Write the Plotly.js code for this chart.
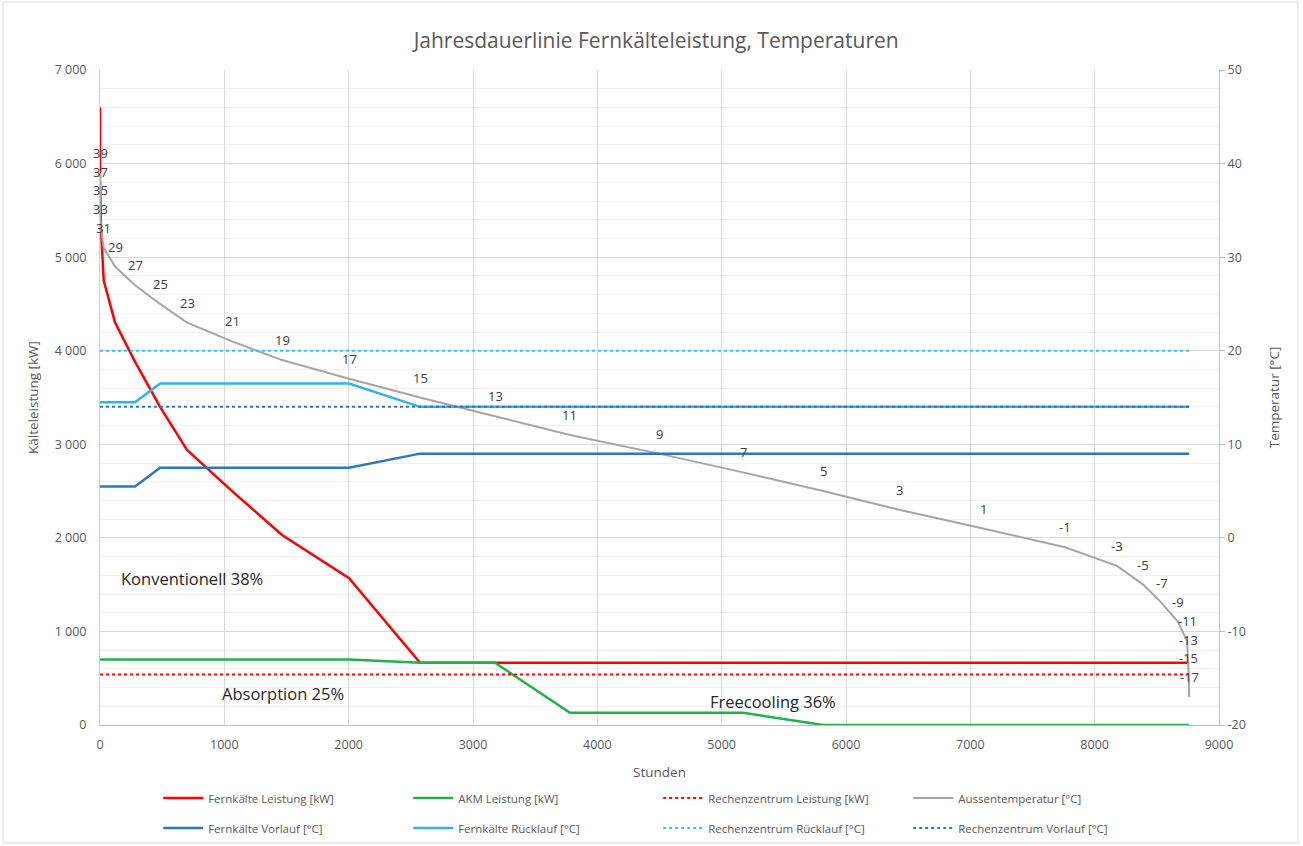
<!DOCTYPE html>
<html>
<head>
<meta charset="utf-8">
<script src="https://cdn.plot.ly/plotly-3.0.1.min.js"></script>
<style>html,body{margin:0;padding:0;background:#fff;}#chart{width:1303px;height:846px;}</style>
</head>
<body>
<div id="chart"></div>
<script>
// Hours of the year (duration curve points), one per temperature bin
var hours = [0, 0, 0, 8, 30, 121, 282, 483, 700, 1062, 1464, 2003, 2574, 3177, 3780, 4496, 5172, 5816, 6427, 7103, 7762, 8180, 8390, 8542, 8671, 8743, 8752, 8758, 8760];
// Aussentemperatur [°C]
var aussenTemp = [39, 37, 35, 33, 31, 29, 27, 25, 23, 21, 19, 17, 15, 13, 11, 9, 7, 5, 3, 1, -1, -3, -5, -7, -9, -11, -13, -15, -17];
// Fernkälte Leistung [kW]
var fkLeistung = [6600, 6200, 5800, 5300, 4750, 4300, 3880, 3400, 2940, 2500, 2030, 1570, 665, 665, 665, 665, 665, 665, 665, 665, 665, 665, 665, 665, 665, 665, 665, 665, 665];
// AKM Leistung [kW]
var akmLeistung = [700, 700, 700, 700, 700, 700, 700, 700, 700, 700, 700, 700, 665, 665, 130, 130, 130, 0, 0, 0, 0, 0, 0, 0, 0, 0, 0, 0, 0];
// Fernkälte Vorlauf / Rücklauf [°C]
var fkVorlauf = [5.5, 5.5, 5.5, 5.5, 5.5, 5.5, 5.5, 7.5, 7.5, 7.5, 7.5, 7.5, 9, 9, 9, 9, 9, 9, 9, 9, 9, 9, 9, 9, 9, 9, 9, 9, 9];
var fkRuecklauf = [14.5, 14.5, 14.5, 14.5, 14.5, 14.5, 14.5, 16.5, 16.5, 16.5, 16.5, 16.5, 14, 14, 14, 14, 14, 14, 14, 14, 14, 14, 14, 14, 14, 14, 14, 14, 14];
// Rechenzentrum constant lines
var rzHours = [0, 8760];
var rzLeistung = [540, 540];
var rzRuecklauf = [20, 20];
var rzVorlauf = [14, 14];
// Tick labels
var leftTickVals = [0, 1000, 2000, 3000, 4000, 5000, 6000, 7000];
var leftTickText = ['0', '1 000', '2 000', '3 000', '4 000', '5 000', '6 000', '7 000'];
var rightTickVals = [-20, -10, 0, 10, 20, 30, 40, 50];
var rightTickText = ['-20', '-10', '0', '10', '20', '30', '40', '50'];
// Text boxes
var boxTexts = ['Konventionell 38%', 'Absorption 25%', 'Freecooling 36%'];
var boxX = [740, 1472, 5413];
var boxY = [1570, 342, 256];

var FONT = 'Open Sans, Noto Sans, sans-serif';

var traces = [
  {x: hours, y: fkLeistung, name: 'Fernkälte Leistung [kW]', mode: 'lines', line: {color: '#ff0000', width: 2.5}, legend: 'legend'},
  {x: hours, y: akmLeistung, name: 'AKM Leistung [kW]', mode: 'lines', line: {color: '#22b04b', width: 2.5}, legend: 'legend'},
  {x: rzHours, y: rzLeistung, name: 'Rechenzentrum Leistung [kW]', mode: 'lines', line: {color: '#ff0000', width: 2, dash: 'dot'}, legend: 'legend'},
  {x: hours, y: aussenTemp, name: 'Aussentemperatur [°C]', mode: 'lines', yaxis: 'y2', line: {color: '#a5a5a5', width: 2}, legend: 'legend'},
  {x: hours, y: fkVorlauf, name: 'Fernkälte Vorlauf [°C]', mode: 'lines', yaxis: 'y2', line: {color: '#2e75c6', width: 2.5}, legend: 'legend2'},
  {x: hours, y: fkRuecklauf, name: 'Fernkälte Rücklauf [°C]', mode: 'lines', yaxis: 'y2', line: {color: '#2fb3ef', width: 2.5}, legend: 'legend2'},
  {x: rzHours, y: rzRuecklauf, name: 'Rechenzentrum Rücklauf [°C]', mode: 'lines', yaxis: 'y2', line: {color: '#3fbdf0', width: 2, dash: 'dot'}, legend: 'legend2'},
  {x: rzHours, y: rzVorlauf, name: 'Rechenzentrum Vorlauf [°C]', mode: 'lines', yaxis: 'y2', line: {color: '#2e75c6', width: 2, dash: 'dot'}, legend: 'legend2'}
];

var annotations = [];
for (var i = 0; i < hours.length; i++) {
  annotations.push({x: hours[i], y: aussenTemp[i], xref: 'x', yref: 'y2', text: String(aussenTemp[i]),
    showarrow: false, yshift: 20, font: {family: FONT, size: 13, color: '#404040'}});
}
for (var j = 0; j < boxTexts.length; j++) {
  annotations.push({x: boxX[j], y: boxY[j], xref: 'x', yref: 'y', text: boxTexts[j], showarrow: false,
    font: {family: FONT, size: 16.5, color: '#262626'}});
}

var legendCommon = {orientation: 'h', x: 0.052, xanchor: 'left', yref: 'container', yanchor: 'middle', entrywidth: 195, entrywidthmode: 'pixels',
  itemwidth: 40, font: {family: FONT, size: 11.5, color: '#595959'}, bgcolor: 'rgba(0,0,0,0)', traceorder: 'normal'};

var layout = {
  width: 1303, height: 846,
  margin: {l: 100, r: 84, t: 70, b: 121},
  paper_bgcolor: '#ffffff', plot_bgcolor: '#ffffff',
  separators: ', ',
  font: {family: FONT, color: '#595959'},
  title: {text: 'Jahresdauerlinie Fernkälteleistung, Temperaturen', font: {family: FONT, size: 21, color: '#595959'},
    x: 0.497, xref: 'paper', xanchor: 'center', y: 1 - 41 / 846, yref: 'container', yanchor: 'middle'},
  xaxis: {range: [0, 9000], dtick: 1000, tick0: 0, showgrid: true, gridcolor: '#d9d9d9', gridwidth: 1,
    showline: true, linecolor: '#bfbfbf', linewidth: 1, zeroline: false,
    ticks: 'outside', ticklen: 8, tickcolor: 'rgba(0,0,0,0)', tickfont: {family: FONT, size: 12.5, color: '#595959'},
    title: {text: 'Stunden', font: {family: FONT, size: 13.5, color: '#595959'}, standoff: 15}},
  yaxis: {range: [0, 7000], tickmode: 'array', tickvals: leftTickVals, ticktext: leftTickText,
    showgrid: true, gridcolor: '#d9d9d9', gridwidth: 1, zeroline: false,
    minor: {dtick: 200, tick0: 0, showgrid: true, gridcolor: '#efefef', gridwidth: 1},
    showline: true, linecolor: '#d0d0d0', linewidth: 1,
    ticks: 'outside', ticklen: 10, tickcolor: 'rgba(0,0,0,0)', tickfont: {family: FONT, size: 12.5, color: '#595959'},
    title: {text: 'Kälteleistung [kW]', font: {family: FONT, size: 13.5, color: '#595959'}, standoff: 12}},
  yaxis2: {range: [-20, 50], overlaying: 'y', side: 'right', tickmode: 'array', tickvals: rightTickVals, ticktext: rightTickText,
    showgrid: false, zeroline: false, showline: true, linecolor: '#bfbfbf', linewidth: 1,
    ticks: 'outside', ticklen: 5, tickcolor: '#bfbfbf', tickfont: {family: FONT, size: 12.5, color: '#595959'},
    title: {text: 'Temperatur [°C]', font: {family: FONT, size: 13.5, color: '#595959'}, standoff: 24}},
  legend: Object.assign({}, legendCommon, {y: 1 - 798 / 846}),
  legend2: Object.assign({}, legendCommon, {y: 1 - 828 / 846}),
  showlegend: true,
  annotations: annotations,
  shapes: [{type: 'rect', xref: 'paper', yref: 'paper', x0: (3 - 100) / 1119, x1: (1298 - 100) / 1119,
    y0: (725 - 843) / 655, y1: (725 - 2) / 655, line: {color: '#d9d9d9', width: 1}, fillcolor: 'rgba(0,0,0,0)', layer: 'below'}]
};

Plotly.newPlot('chart', traces, layout, {displayModeBar: false, staticPlot: true});
</script>
</body>
</html>
